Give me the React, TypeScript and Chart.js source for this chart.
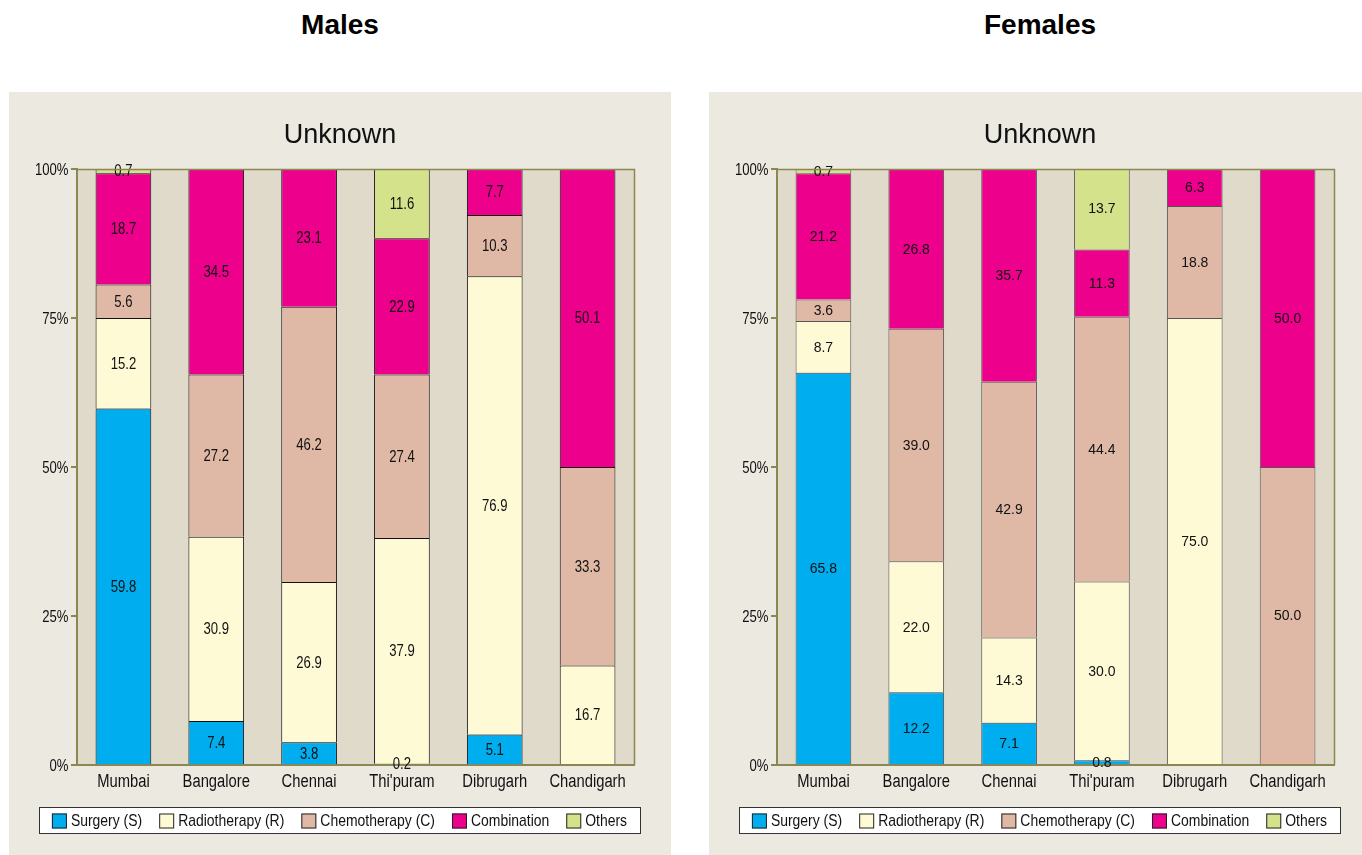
import React, { useEffect, useRef } from 'react';
import { Chart, registerables } from 'chart.js';

Chart.register(...registerables);

const categories = ['Mumbai', 'Bangalore', 'Chennai', "Thi'puram", 'Dibrugarh', 'Chandigarh'];
const seriesNames = ['Surgery (S)', 'Radiotherapy (R)', 'Chemotherapy (C)', 'Combination', 'Others'];
const seriesColors = ['#00aeef', '#fffad6', '#e0b9a6', '#ec008c', '#d4e28c'];
const yTickValues = [0, 25, 50, 75, 100];
const chartSubtitle = 'Unknown';

const maleSurgery = [59.8, 7.4, 3.8, 0.2, 5.1, 0];
const maleRadio = [15.2, 30.9, 26.9, 37.9, 76.9, 16.7];
const maleChemo = [5.6, 27.2, 46.2, 27.4, 10.3, 33.3];
const maleComb = [18.7, 34.5, 23.1, 22.9, 7.7, 50.1];
const maleOthers = [0.7, 0, 0, 11.6, 0, 0];

const femaleSurgery = [65.8, 12.2, 7.1, 0.8, 0, 0];
const femaleRadio = [8.7, 22.0, 14.3, 30.0, 75.0, 0];
const femaleChemo = [3.6, 39.0, 42.9, 44.4, 18.8, 50.0];
const femaleComb = [21.2, 26.8, 35.7, 11.3, 6.3, 50.0];
const femaleOthers = [0.7, 0, 0, 13.7, 0, 0];

const REGULAR = '"Liberation Sans", Arial, Helvetica, sans-serif';
const NARROW_SCALE = 0.82;
const OLIVE = '#8b8752';
const PANEL_BG = '#ece9e1';
const PLOT_BG = '#e0dacb';
const PANEL_W = 662;
const PANEL_H = 763;

function drawText(ctx: CanvasRenderingContext2D, text: string, x: number, y: number, align: CanvasTextAlign, font: string, sx: number) {
  ctx.save();
  ctx.font = font;
  ctx.textAlign = align;
  ctx.textBaseline = 'middle';
  ctx.translate(x, y);
  ctx.scale(sx, 1);
  ctx.fillText(text, 0, 0);
  ctx.restore();
}

const panelPlugin = {
  id: 'panelDecor',
  beforeDraw(chart: any) {
    const { ctx, chartArea } = chart;
    ctx.save();
    ctx.fillStyle = PLOT_BG;
    ctx.fillRect(chartArea.left, chartArea.top, chartArea.right - chartArea.left, chartArea.bottom - chartArea.top);
    ctx.restore();
  },
  afterDraw(chart: any) {
    const { ctx, chartArea } = chart;
    ctx.save();
    ctx.strokeStyle = OLIVE;
    ctx.lineWidth = 1.5;
    ctx.beginPath();
    ctx.moveTo(chartArea.left, chartArea.top + 0.5);
    ctx.lineTo(chartArea.right + 0.5, chartArea.top + 0.5);
    ctx.lineTo(chartArea.right + 0.5, chartArea.bottom);
    ctx.stroke();

    ctx.fillStyle = '#111';
    // chart title
    drawText(ctx, chartSubtitle, chart.width / 2, 44, 'center', '27px ' + REGULAR, 1);

    // category labels
    const xs = chart.scales.x;
    categories.forEach((c, i) => {
      drawText(ctx, c, xs.getPixelForTick(i), chartArea.bottom + 17, 'center', '18px ' + REGULAR, NARROW_SCALE);
    });
    // y tick labels
    const ys = chart.scales.y;
    yTickValues.forEach((v) => {
      drawText(ctx, v + '%', chartArea.left - 8.5, ys.getPixelForValue(v) + 2, 'right', '16px ' + REGULAR, NARROW_SCALE);
    });

    // legend
    const boxX = 30, boxY = 715, boxW = 601, boxH = 26;
    ctx.fillStyle = '#ffffff';
    ctx.fillRect(boxX, boxY, boxW, boxH);
    ctx.strokeStyle = '#333333';
    ctx.lineWidth = 1;
    ctx.strokeRect(boxX + 0.5, boxY + 0.5, boxW, boxH);
    const lfont = '17px ' + REGULAR;
    ctx.font = lfont;
    const sq = 15, gap = 4, itemGap = 17;
    const widths = seriesNames.map((n) => ctx.measureText(n).width * NARROW_SCALE);
    const total = widths.reduce((a, w) => a + sq + gap + w, 0) + itemGap * (seriesNames.length - 1);
    let x = boxX + (boxW - total) / 2;
    const cy = boxY + boxH / 2 + 1;
    seriesNames.forEach((n, i) => {
      ctx.fillStyle = seriesColors[i];
      ctx.fillRect(x, cy - sq / 2, sq, sq);
      ctx.strokeStyle = '#222';
      ctx.strokeRect(x + 0.5, cy - sq / 2 + 0.5, sq - 1, sq - 1);
      ctx.fillStyle = '#111';
      drawText(ctx, n, x + sq + gap, cy, 'left', lfont, NARROW_SCALE);
      x += sq + gap + widths[i] + itemGap;
    });
    ctx.restore();
  },
};

const labelPlugin = {
  id: 'valueLabels',
  afterDatasetsDraw(chart: any, _args: any, opts: any) {
    const { ctx } = chart;
    ctx.save();
    ctx.fillStyle = '#111';
    chart.data.datasets.forEach((ds: any, i: number) => {
      const meta = chart.getDatasetMeta(i);
      meta.data.forEach((el: any, j: number) => {
        const v = ds.data[j];
        if (!v) return;
        const p = el.getProps(['x', 'y', 'base'], true);
        drawText(ctx, v.toFixed(1), p.x, (p.y + p.base) / 2 + 1, 'center', opts.font, opts.scale);
      });
    });
    ctx.restore();
  },
};

function Panel(props: { series: number[][]; borderColor: string; labelFont: string; labelScale: number }) {
  const ref = useRef<HTMLCanvasElement>(null);
  useEffect(() => {
    const canvas = ref.current!;
    const datasets = props.series.map((arr, i) => ({
      label: seriesNames[i],
      data: arr.map((v) => (v ? v : null)),
      backgroundColor: seriesColors[i],
      borderColor: props.borderColor,
      borderWidth: 1,
      borderSkipped: 'bottom' as const,
      barPercentage: 0.6,
      categoryPercentage: 1,
    }));
    const chart = new Chart(canvas, {
      type: 'bar',
      data: { labels: categories, datasets },
      plugins: [panelPlugin, labelPlugin],
      options: {
        animation: false,
        responsive: false,
        layout: { padding: { left: 0, right: PANEL_W - 625, top: 77, bottom: 60 } },
        plugins: {
          legend: { display: false },
          tooltip: { enabled: false },
          title: { display: false },
          valueLabels: { font: props.labelFont, scale: props.labelScale },
        } as any,
        scales: {
          x: {
            stacked: true,
            grid: { display: false, drawTicks: false },
            border: { display: true, color: OLIVE, width: 2 },
            ticks: { display: false },
            afterFit: (s: any) => { s.height = 30; },
          },
          y: {
            stacked: true,
            min: 0,
            max: 100,
            afterBuildTicks: (s: any) => { s.ticks = yTickValues.map((v) => ({ value: v })); },
            ticks: { display: false },
            grid: { drawOnChartArea: false, drawTicks: true, tickLength: 6, color: OLIVE, lineWidth: 2 },
            border: { display: true, color: OLIVE, width: 2 },
            afterFit: (s: any) => { s.width = 68; },
          },
        },
      },
    });
    return () => chart.destroy();
  }, []);
  return <canvas ref={ref} width={PANEL_W} height={PANEL_H} style={{ display: 'block', width: PANEL_W, height: PANEL_H }} />;
}

function Figure(props: { title: string; left: number; series: number[][]; borderColor: string; labelFont: string; labelScale: number }) {
  return (
    <div style={{ position: 'absolute', left: props.left, top: 0, width: PANEL_W, height: 855 }}>
      <div
        style={{
          position: 'absolute', left: 0, top: 7, width: PANEL_W, textAlign: 'center',
          font: 'bold 28px ' + REGULAR, lineHeight: '36px', color: '#000',
        }}
      >
        {props.title}
      </div>
      <div style={{ position: 'absolute', left: 0, top: 92, width: PANEL_W, height: PANEL_H, background: PANEL_BG }}>
        <Panel series={props.series} borderColor={props.borderColor} labelFont={props.labelFont} labelScale={props.labelScale} />
      </div>
    </div>
  );
}

export default function App() {
  return (
    <div style={{ position: 'absolute', left: 0, top: 0, width: 1362, height: 855, overflow: 'hidden', background: '#fff' }}>
      <Figure
        title="Males"
        left={9}
        series={[maleSurgery, maleRadio, maleChemo, maleComb, maleOthers]}
        borderColor="#111"
        labelFont={'16px ' + REGULAR}
        labelScale={NARROW_SCALE}
      />
      <Figure
        title="Females"
        left={709}
        series={[femaleSurgery, femaleRadio, femaleChemo, femaleComb, femaleOthers]}
        borderColor="#555"
        labelFont={'14px ' + REGULAR}
        labelScale={1}
      />
    </div>
  );
}
